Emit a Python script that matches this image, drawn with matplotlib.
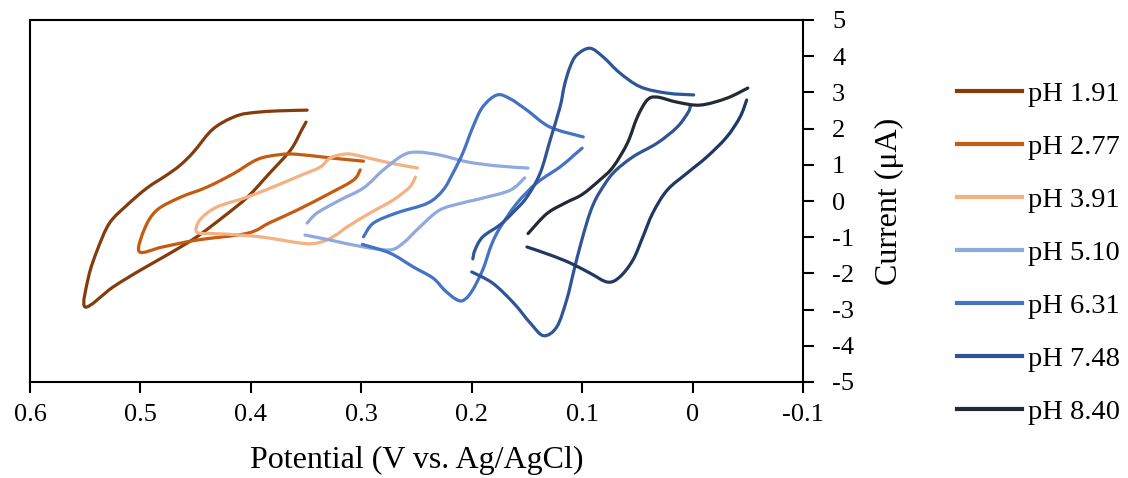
import numpy as np
import matplotlib
matplotlib.use("Agg")
import matplotlib.pyplot as plt
from matplotlib.path import Path
from matplotlib.patches import PathPatch
from matplotlib.lines import Line2D

nan = np.nan

labels = ["pH 1.91", "pH 2.77", "pH 3.91", "pH 5.10", "pH 6.31", "pH 7.48", "pH 8.40"]
colors = ["#843C0C", "#C55A11", "#F4B183", "#8FAADC", "#4472C4", "#2F5597", "#222A35"]
rev_color_840 = "#1F3864"

# potential (V vs Ag/AgCl) and current (uA); nan = break between scan branches
E_191 = [0.349, 0.375, 0.395, 0.410, 0.425, 0.437, 0.452, 0.464, 0.476, 0.494, 0.512, 0.528,
         0.539, 0.547, 0.550,
         0.525, 0.500, 0.473, 0.449, 0.425, 0.403, 0.383, 0.364, 0.354, 0.350]
I_191 = [2.51, 2.49, 2.45, 2.38, 2.18, 1.91, 1.35, 0.99, 0.72, 0.36, -0.11, -0.61,
         -1.35, -2.10, -2.93,
         -2.38, -1.91, -1.44, -0.99, -0.44, 0.11, 0.77, 1.41, 1.96, 2.18]

E_277 = [0.298, 0.328, 0.358, 0.374, 0.394, 0.416, 0.440, 0.464, 0.485, 0.496, 0.501,
         0.480, 0.449, 0.403, 0.383, 0.358, 0.328, 0.307, 0.301]
I_277 = [1.10, 1.19, 1.29, 1.28, 1.15, 0.75, 0.38, 0.10, -0.25, -0.75, -1.40,
         -1.27, -1.08, -0.89, -0.60, -0.25, 0.22, 0.58, 0.86]

E_391 = [0.249, 0.274, 0.298, 0.313, 0.328, 0.337, 0.354, 0.371, 0.403, 0.431, 0.446, 0.449,
         0.435, 0.419, 0.389, 0.358, 0.345, 0.333, 0.322, 0.313, 0.292, 0.271, 0.256, 0.251]
I_391 = [0.91, 1.05, 1.22, 1.30, 1.19, 0.94, 0.72, 0.50, 0.11, -0.17, -0.52, -0.86,
         -0.90, -0.92, -1.00, -1.15, -1.18, -1.10, -0.92, -0.72, -0.33, 0.03, 0.39, 0.66]

E_510 = [0.149, 0.177, 0.204, 0.229, 0.249, 0.262, 0.280, 0.298, 0.319, 0.340, 0.349, nan,
         0.351, 0.328, 0.298, 0.274, 0.262, 0.247, 0.229, 0.208, 0.190, 0.165, 0.152]
I_510 = [0.91, 0.97, 1.08, 1.27, 1.35, 1.27, 0.86, 0.36, 0.03, -0.33, -0.61, nan,
         -0.94, -1.08, -1.27, -1.35, -1.16, -0.72, -0.25, -0.05, 0.08, 0.30, 0.64]

E_631 = [0.099, 0.129, 0.150, 0.165, 0.177, 0.190, 0.199, 0.208, 0.217, 0.226, 0.240, 0.268,
         0.289, 0.298, nan,
         0.299, 0.274, 0.253, 0.235, 0.225, 0.215, 0.208, 0.200, 0.190, 0.182, 0.174, 0.159,
         0.141, 0.120, 0.108, 0.100]
I_631 = [1.77, 2.04, 2.51, 2.82, 2.93, 2.60, 2.04, 1.33, 0.77, 0.30, -0.06, -0.33,
         -0.61, -0.99, nan,
         -1.20, -1.44, -1.82, -2.13, -2.45, -2.70, -2.75, -2.50, -1.90, -1.20, -0.72, -0.06,
         0.50, 0.94, 1.25, 1.46]

E_748 = [-0.001, 0.023, 0.047, 0.066, 0.081, 0.093, 0.105, 0.111, 0.116, 0.120, 0.129, 0.138,
         0.150, 0.162, 0.174, 0.190, 0.197, 0.199, nan,
         0.200, 0.181, 0.162, 0.147, 0.135, 0.123, 0.114, 0.108, 0.102, 0.095, 0.090, 0.084,
         0.072, 0.054, 0.032, 0.014, 0.004, 0.002]
I_748 = [2.93, 2.98, 3.15, 3.54, 3.98, 4.22, 4.03, 3.70, 3.20, 2.60, 1.68, 0.77,
         0.11, -0.30, -0.65, -0.99, -1.35, -1.60, nan,
         -1.96, -2.27, -2.82, -3.37, -3.72, -3.48, -2.73, -1.99, -1.27, -0.52, -0.10, 0.25,
         0.77, 1.22, 1.60, 2.04, 2.45, 2.62]

E_840_fwd = [0.149, 0.132, 0.115, 0.100, 0.084, 0.072, 0.059, 0.050, 0.041, 0.032, 0.014,
             -0.007, -0.031, -0.050]
I_840_fwd = [-0.90, -0.35, -0.05, 0.18, 0.58, 0.94, 1.60, 2.32, 2.79, 2.87, 2.73,
             2.65, 2.84, 3.12]
E_840_rev = [-0.049, -0.043, -0.031, -0.013, 0.005, 0.023, 0.036, 0.045, 0.054, 0.066, 0.077,
             0.093, 0.111, 0.129, 0.150]
I_840_rev = [2.79, 2.32, 1.77, 1.22, 0.77, 0.30, -0.33, -0.99, -1.63, -2.10, -2.24,
             -1.99, -1.71, -1.49, -1.27]

x_ticks = [0.6, 0.5, 0.4, 0.3, 0.2, 0.1, 0.0, -0.1]
x_tick_labels = ["0.6", "0.5", "0.4", "0.3", "0.2", "0.1", "0", "-0.1"]
y_ticks = [5, 4, 3, 2, 1, 0, -1, -2, -3, -4, -5]
y_tick_labels = ["5", "4", "3", "2", "1", "0", "-1", "-2", "-3", "-4", "-5"]

plt.rcParams['font.family'] = ['Liberation Serif', 'DejaVu Serif']

fig = plt.figure(figsize=(11.28, 4.78), dpi=100)
ax = fig.add_axes([30 / 1128, 1 - 382 / 478, (803 - 30) / 1128, (382 - 20) / 478])

lw = 2.3


def smooth_path(xs, ys):
    """Smoothed-line rendering (like a spreadsheet 'smoothed line'): Bezier through the points."""
    xs = np.asarray(xs, float)
    ys = np.asarray(ys, float)
    verts, codes = [], []
    breaks = np.where(np.isnan(xs))[0]
    starts = np.r_[0, breaks + 1]
    ends = np.r_[breaks, len(xs)]
    for s, e in zip(starts, ends):
        P = np.column_stack([xs[s:e], ys[s:e]])
        n = len(P)
        if n < 2:
            continue
        verts.append(P[0]); codes.append(Path.MOVETO)
        for k in range(n - 1):
            p0 = P[k - 1] if k > 0 else P[k]
            p1, p2 = P[k], P[k + 1]
            p3 = P[k + 2] if k + 2 < n else P[k + 1]
            c1 = p1 + (p2 - p0) / 6.0
            c2 = p2 - (p3 - p1) / 6.0
            verts += [c1, c2, p2]
            codes += [Path.CURVE4] * 3
    return Path(verts, codes)


def draw(xs, ys, color):
    patch = PathPatch(smooth_path(xs, ys), facecolor='none', edgecolor=color, lw=lw,
                      capstyle='round', joinstyle='round', transform=ax.transData)
    ax.add_patch(patch)


series = [(E_191, I_191), (E_277, I_277), (E_391, I_391), (E_510, I_510),
          (E_631, I_631), (E_748, I_748), (E_840_fwd, I_840_fwd)]
handles = []
for (e, i), c in zip(series, colors):
    draw(e, i, c)
    handles.append(Line2D([], [], color=c, lw=3.0))
draw(E_840_rev, I_840_rev, rev_color_840)

ax.set_xlim(0.6, -0.1)
ax.set_ylim(-5, 5)
ax.set_xticks(x_ticks)
ax.set_xticklabels(x_tick_labels)
ax.set_yticks(y_ticks)
ax.set_yticklabels(y_tick_labels)
ax.yaxis.tick_right()
ax.yaxis.set_label_position('right')
ax.tick_params(axis='both', direction='out', length=8, width=1.5, labelsize=19, colors='black')
ax.tick_params(axis='x', pad=8)
ax.tick_params(axis='y', pad=13)
for s in ax.spines.values():
    s.set_linewidth(1.5)
    s.set_color('black')

ax.set_xlabel("Potential (V vs. Ag/AgCl)", fontsize=23, labelpad=14)
ax.set_ylabel("Current (μA)", fontsize=23, labelpad=15, rotation=90)

fig.legend(handles=handles, labels=labels, loc='center left',
           bbox_to_anchor=(957 / 1128, 1 - 253 / 478), frameon=False,
           fontsize=20.5, handlelength=2.3, handletextpad=0.2, labelspacing=0.95,
           borderpad=0, borderaxespad=0)

fig.savefig("out.png", dpi=100)
